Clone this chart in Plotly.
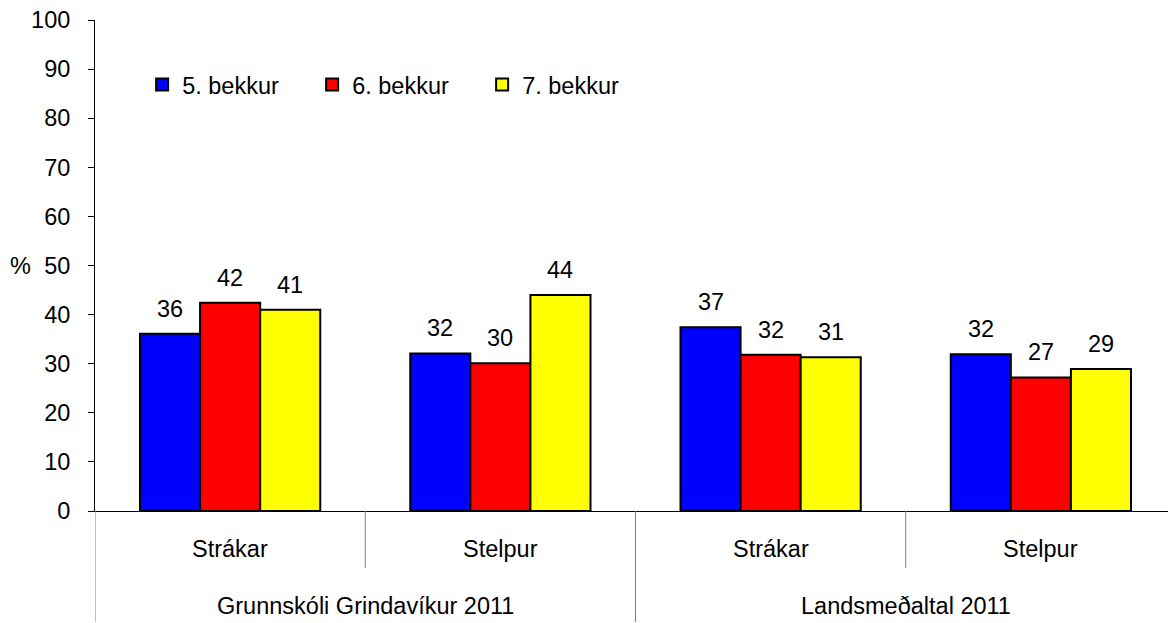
import plotly.graph_objects as go

groups = ["Grunnskóli Grindavíkur 2011", "Grunnskóli Grindavíkur 2011", "Landsmeðaltal 2011", "Landsmeðaltal 2011"]
subs = ["Strákar", "Stelpur", "Strákar", "Stelpur"]
series_names = ["5. bekkur", "6. bekkur", "7. bekkur"]
v5 = [36.1, 32.1, 37.4, 31.9]
v6 = [42.4, 30.1, 31.8, 27.2]
v7 = [41.0, 44.0, 31.3, 28.9]
colors = ["#0000FF", "#FF0000", "#FFFF00"]
yticks = list(range(0, 101, 10))

cats = [f"{g} / {s}" for g, s in zip(groups, subs)]
FONT = "Arial, Liberation Sans, sans-serif"
FS = 23.5

# page has an 8px body margin; figure sized to fit the 1176x623 window
W, H = 1168, 615
ML, MR, MT, MB = 87, 0, 12, 112
plot_w = W - ML - MR
n = len(cats)
bargap = 0.333
bar_px = plot_w / n * (1 - bargap) / len(series_names)

fig = go.Figure()
series = [v5, v6, v7]
for k, (name, vals, col) in enumerate(zip(series_names, series, colors)):
    fig.add_trace(go.Bar(
        x=cats, y=vals, name=name,
        marker=dict(color=col, line=dict(color="black", width=2)),
        cliponaxis=False,
    ))
    for i, v in enumerate(vals):
        fig.add_annotation(x=cats[i], y=v, xref="x", yref="y", text=f"{round(v)}",
                           showarrow=False, yanchor="bottom", yshift=10,
                           xshift=(k - (len(series_names) - 1) / 2) * bar_px,
                           font=dict(size=FS, color="black", family=FONT))

# sub-category labels
for i, s in enumerate(subs):
    fig.add_annotation(x=i, y=-0.0774, xref="x", yref="paper", text=s, showarrow=False,
                       font=dict(size=FS, color="black", family=FONT), yanchor="middle")
# group labels
uniq = []
for g in groups:
    if g not in uniq:
        uniq.append(g)
for g in uniq:
    idx = [i for i, gg in enumerate(groups) if gg == g]
    fig.add_annotation(x=(idx[0] + idx[-1]) / 2, y=-0.1935, xref="x", yref="paper", text=g,
                       showarrow=False, font=dict(size=FS, color="black", family=FONT), yanchor="middle")

# dividers
for b in range(n):
    xb = b - 0.5
    full = b == 0 or groups[b] != groups[b - 1]
    fig.add_shape(type="line", xref="x", yref="paper", x0=xb, x1=xb, y0=0,
                  y1=(-0.226 if full else -0.116), line=dict(color="#808080", width=1))

fig.add_annotation(x=-0.0685, y=50, xref="paper", yref="y", text="%", showarrow=False,
                   font=dict(size=FS, color="black", family=FONT), xanchor="center")

fig.update_layout(
    width=W, height=H,
    margin=dict(l=ML, r=MR, t=MT, b=MB, autoexpand=False),
    plot_bgcolor="white", paper_bgcolor="white",
    barmode="group", bargap=bargap, bargroupgap=0,
    font=dict(family=FONT, size=FS, color="black"),
    showlegend=True,
    legend=dict(orientation="h", x=0.0436, y=0.868, xanchor="left", yanchor="middle",
                entrywidth=125, entrywidthmode="pixels", itemwidth=30,
                font=dict(size=FS, color="black", family=FONT), bgcolor="rgba(0,0,0,0)",
                tracegroupgap=0, itemclick=False),
    xaxis=dict(type="category", showticklabels=False, showline=True, linecolor="black",
               linewidth=1, ticks="", showgrid=False, range=[-0.5, n - 0.5], fixedrange=True),
    yaxis=dict(range=[0, 100], tickvals=yticks, ticks="outside", ticklen=6, tickcolor="black",
               showline=True, linecolor="black", linewidth=1, showgrid=False, zeroline=False,
               ticklabelstandoff=13, ticklabeloverflow="allow",
               tickfont=dict(size=FS, color="black", family=FONT)),
)

fig.write_html("out.html")
